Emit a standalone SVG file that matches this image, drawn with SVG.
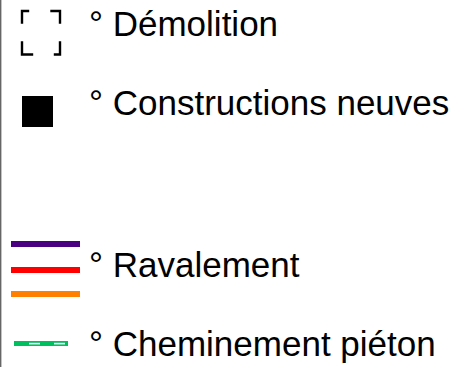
<svg xmlns="http://www.w3.org/2000/svg" width="454" height="367" viewBox="0 0 454 367">
<style>
.lbl{font-family:"Liberation Sans",Arial,sans-serif;font-size:35px;fill:#000}
.br{fill:none;stroke:#000;stroke-width:2.4;stroke-linecap:square}
</style>
<rect x="0" y="0" width="454" height="367" fill="#fff"/>
<line x1="0.7" y1="0" x2="0.7" y2="367" stroke="#666" stroke-width="1.4"/>
<g id="demolition">
<path class="br" d="M22,22.5 V11 H28 M51.5,11 H60 V22.5 M22,42.5 V54.5 H32 M55,54.5 H60 V42.5"/>
<text class="lbl" x="89" y="36">° Démolition</text>
</g>
<g id="constructions">
<rect x="22" y="96" width="31" height="31" fill="#000"/>
<text class="lbl" x="89" y="115">° Constructions neuves</text>
</g>
<g id="ravalement">
<rect x="11" y="241" width="69" height="6" fill="#4B0082"/>
<rect x="11" y="267" width="69" height="6" fill="#FF0000"/>
<rect x="11" y="291" width="69" height="6" fill="#FF8000"/>
<text class="lbl" x="89" y="277">° Ravalement</text>
</g>
<g id="cheminement">
<rect x="14" y="341" width="54" height="5" fill="#00BF5F"/>
<rect x="29" y="342.8" width="11" height="1.6" fill="#fff"/>
<rect x="54" y="342.8" width="11" height="1.6" fill="#fff"/>
<text class="lbl" x="89" y="356">° Cheminement piéton</text>
</g>
</svg>
